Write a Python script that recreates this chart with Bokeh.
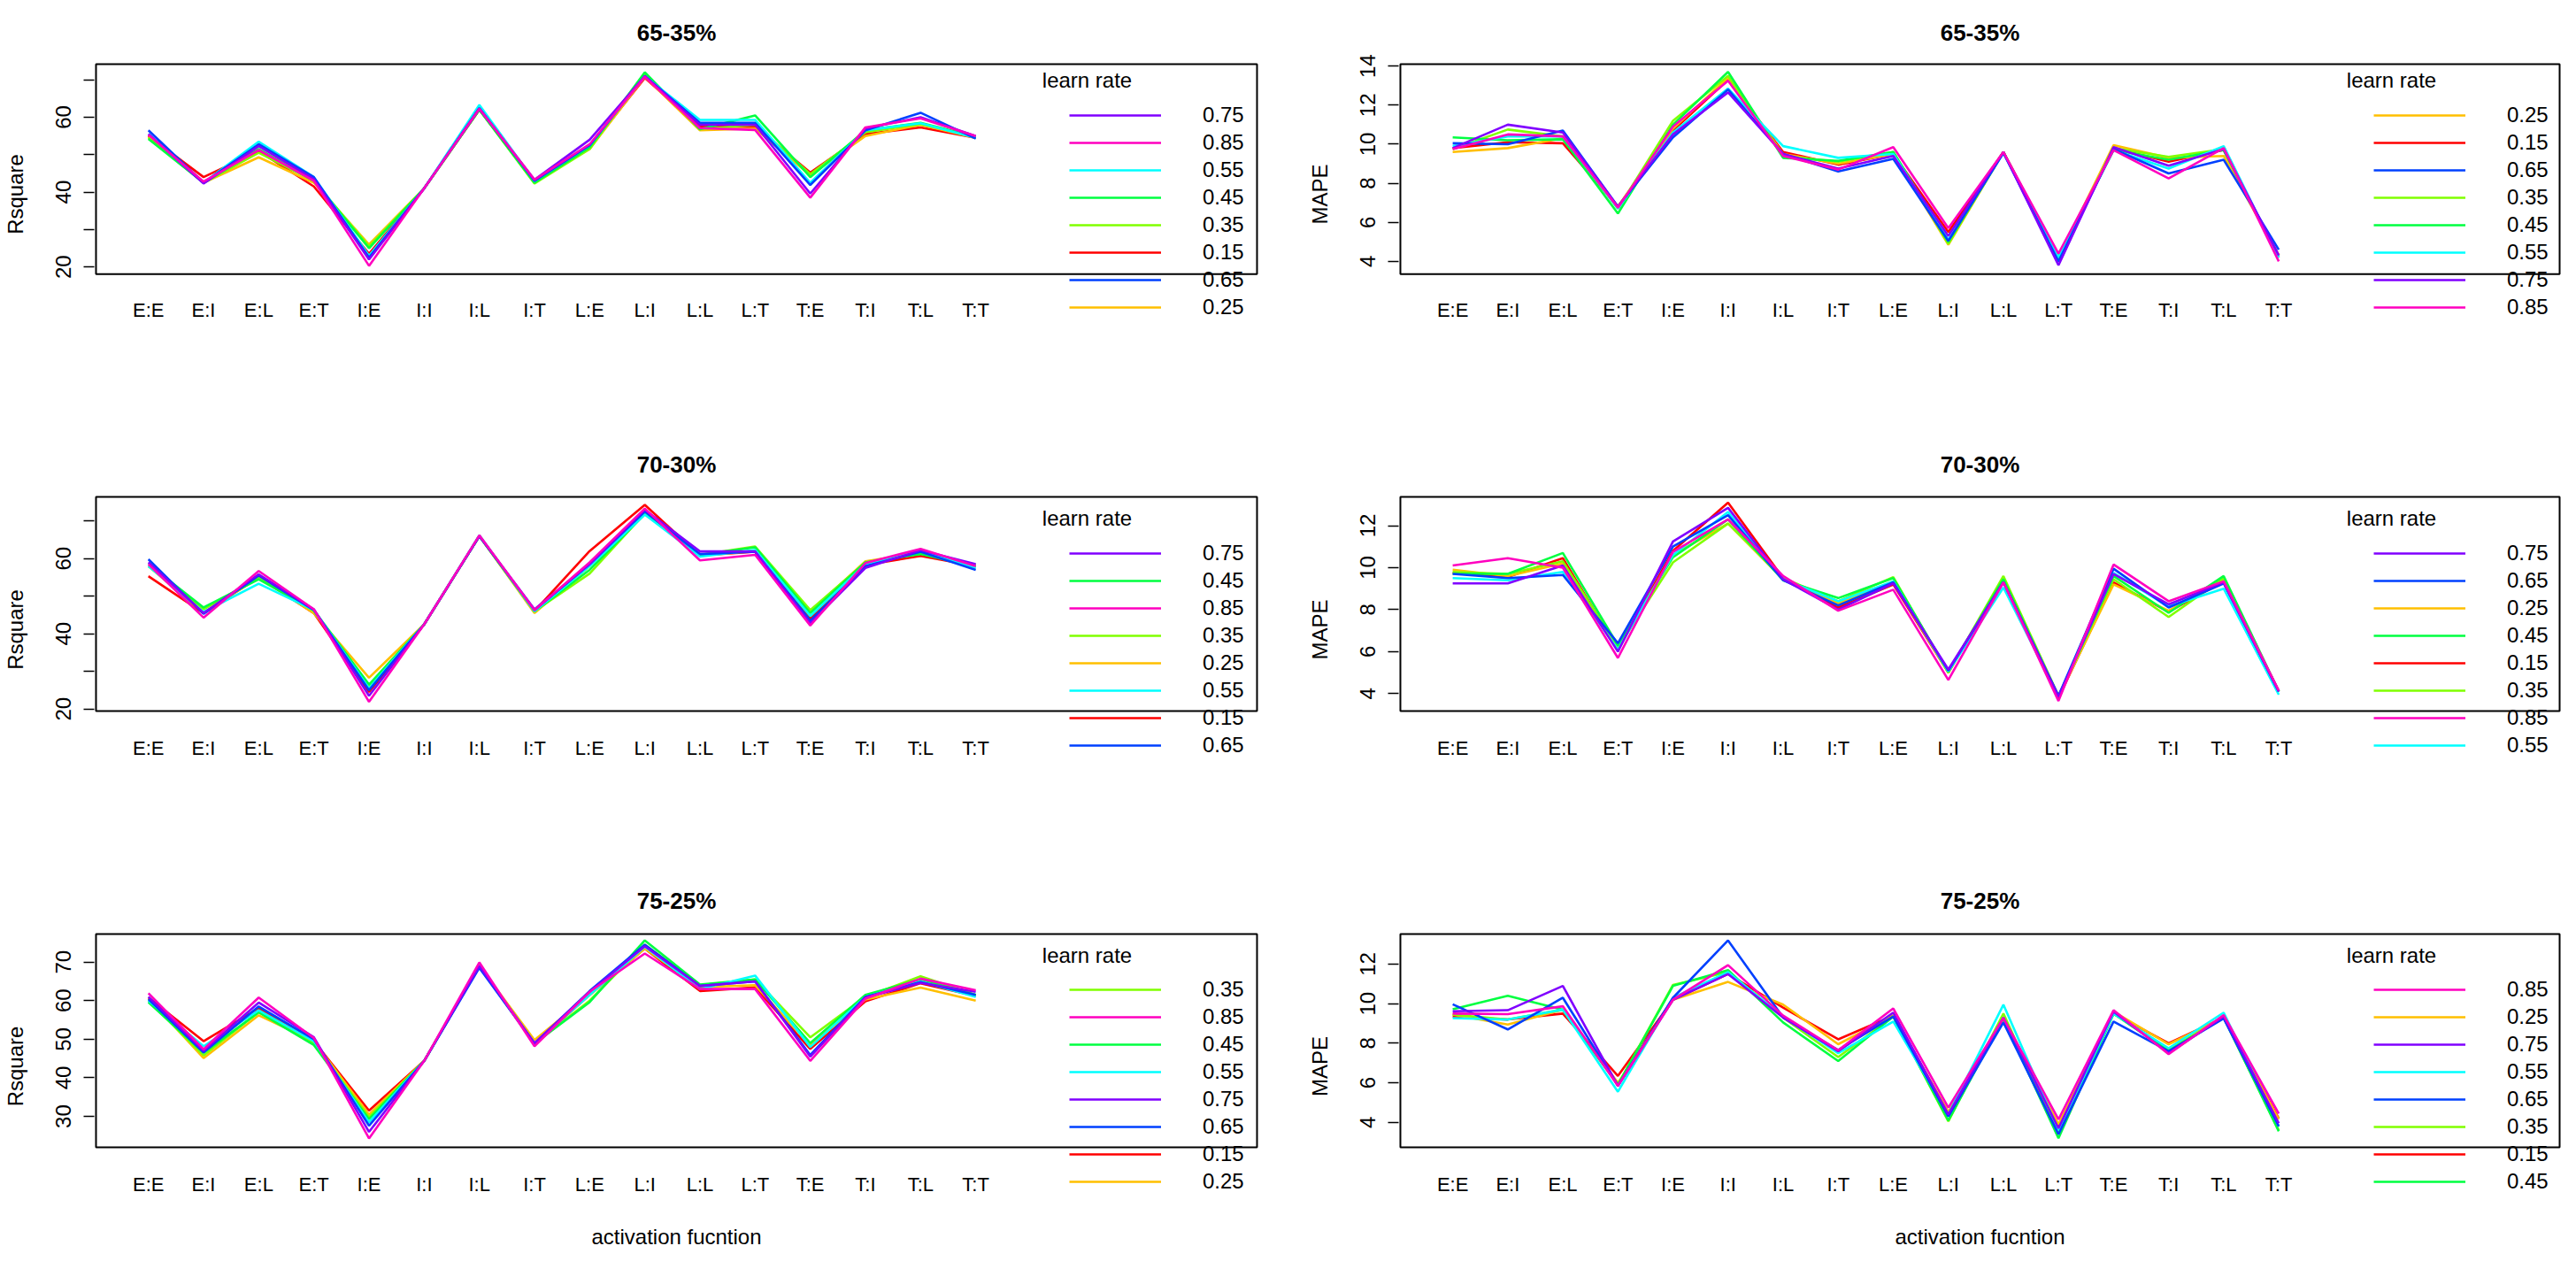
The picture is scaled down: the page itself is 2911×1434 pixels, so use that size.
from bokeh.plotting import figure
from bokeh.models import Range1d, FixedTicker, Legend, LegendItem, Label, BoxAnnotation
from bokeh.layouts import column, row
from bokeh.embed import file_html
from bokeh.resources import INLINE

categories = ["E:E", "E:I", "E:L", "E:T", "I:E", "I:I", "I:L", "I:T",
              "L:E", "L:I", "L:L", "L:T", "T:E", "T:I", "T:L", "T:T"]
learn_rates = ["0.15", "0.25", "0.35", "0.45", "0.55", "0.65", "0.75", "0.85"]
rate_colors = ["#FF0000", "#FFBF00", "#80FF00", "#00FF40", "#00FFFF", "#0040FF", "#8000FF", "#FF00BF"]

# ---- 65-35% Rsquare
rsq65_015 = [55.0, 44.0, 51.0, 41.5, 23.5, 41.0, 62.0, 43.0, 52.0, 70.5, 57.5, 57.5, 45.2, 55.5, 57.3, 54.5]
rsq65_025 = [54.8, 42.5, 49.3, 42.5, 26.0, 41.0, 62.0, 43.0, 51.5, 70.8, 56.5, 57.0, 44.5, 55.0, 58.0, 54.5]
rsq65_035 = [54.5, 42.5, 50.5, 43.0, 25.5, 41.0, 62.0, 42.3, 51.5, 71.8, 56.8, 58.0, 44.8, 56.0, 58.2, 54.8]
rsq65_045 = [54.2, 42.5, 51.5, 43.0, 25.0, 41.0, 62.0, 42.5, 52.0, 72.0, 56.8, 60.5, 44.0, 56.5, 58.5, 54.8]
rsq65_055 = [55.5, 42.5, 53.5, 44.0, 23.0, 41.0, 63.3, 43.0, 52.5, 71.0, 59.3, 59.3, 42.5, 56.5, 58.4, 54.5]
rsq65_065 = [56.5, 42.5, 52.8, 44.0, 22.5, 41.0, 62.5, 43.0, 52.5, 71.0, 58.5, 58.5, 41.9, 56.5, 61.2, 54.3]
rsq65_075 = [55.5, 42.3, 52.3, 43.5, 22.0, 41.0, 62.2, 43.3, 54.0, 71.0, 58.0, 58.0, 39.6, 57.0, 60.0, 55.0]
rsq65_085 = [55.3, 42.8, 51.2, 43.0, 20.3, 41.0, 62.3, 43.3, 52.8, 70.8, 57.1, 56.6, 38.5, 57.3, 59.7, 55.0]

# ---- 65-35% MAPE
mape65_015 = [9.8, 10.1, 10.05, 6.8, 10.7, 13.3, 9.6, 8.95, 9.5, 5.5, 9.6, 4.2, 9.8, 9.1, 9.7, 4.3]
mape65_025 = [9.6, 9.8, 10.3, 6.8, 10.8, 13.4, 9.5, 9.0, 9.5, 4.85, 9.6, 4.2, 9.95, 9.3, 9.4, 4.3]
mape65_035 = [9.75, 10.75, 10.4, 6.7, 11.2, 13.5, 9.4, 9.1, 9.6, 4.9, 9.6, 4.2, 9.8, 9.35, 9.75, 4.2]
mape65_045 = [10.35, 10.2, 10.25, 6.45, 11.0, 13.7, 9.3, 9.15, 9.6, 5.0, 9.6, 4.2, 9.7, 9.2, 9.7, 4.2]
mape65_055 = [9.9, 10.4, 10.4, 6.7, 10.6, 12.85, 9.9, 9.3, 9.5, 5.1, 9.55, 4.2, 9.7, 8.75, 9.9, 4.2]
mape65_065 = [10.05, 10.0, 10.7, 6.8, 10.35, 12.8, 9.5, 8.6, 9.25, 5.05, 9.55, 4.0, 9.75, 8.5, 9.2, 4.6]
mape65_075 = [9.8, 11.0, 10.6, 6.8, 10.5, 12.65, 9.5, 8.75, 9.4, 5.3, 9.6, 3.8, 9.85, 8.9, 9.75, 4.3]
mape65_085 = [9.75, 10.5, 10.4, 6.75, 10.9, 13.25, 9.4, 8.7, 9.85, 5.7, 9.6, 4.4, 9.7, 8.25, 9.8, 4.0]

# ---- 70-30% Rsquare
rsq70_015 = [55.3, 45.5, 55.0, 45.5, 24.5, 42.5, 66.0, 46.0, 62.0, 74.3, 60.8, 61.8, 44.0, 58.3, 60.7, 58.0]
rsq70_025 = [58.0, 45.5, 55.0, 45.5, 28.3, 42.5, 66.0, 45.5, 58.0, 72.5, 60.8, 62.0, 45.8, 59.3, 61.5, 58.3]
rsq70_035 = [58.0, 46.5, 55.0, 46.0, 26.0, 42.5, 66.0, 46.0, 56.0, 72.0, 61.0, 63.2, 46.3, 59.0, 61.8, 58.2]
rsq70_045 = [58.5, 47.0, 54.5, 46.3, 26.5, 42.5, 66.0, 46.0, 57.0, 71.8, 61.0, 63.0, 45.5, 59.0, 61.2, 57.8]
rsq70_055 = [58.0, 45.8, 53.3, 46.3, 25.5, 42.5, 66.2, 46.0, 58.0, 71.7, 60.5, 62.3, 44.7, 58.5, 62.0, 57.5]
rsq70_065 = [59.8, 45.3, 55.5, 46.3, 25.0, 42.5, 66.0, 46.3, 58.5, 72.5, 61.2, 61.8, 43.5, 58.0, 61.8, 57.0]
rsq70_075 = [59.0, 45.5, 55.8, 46.5, 23.5, 42.5, 66.0, 46.5, 58.5, 73.0, 61.9, 61.9, 42.8, 57.5, 62.2, 58.5]
rsq70_085 = [58.5, 44.3, 56.7, 46.5, 21.9, 42.5, 66.2, 46.3, 59.0, 73.3, 59.5, 61.0, 42.2, 58.8, 62.6, 58.0]

# ---- 70-30% MAPE
mape70_015 = [9.75, 9.55, 10.45, 6.1, 10.8, 13.1, 9.5, 8.1, 9.2, 5.0, 9.4, 3.8, 9.3, 7.9, 9.35, 4.1]
mape70_025 = [9.9, 9.6, 10.2, 6.1, 10.6, 12.1, 9.45, 8.3, 9.3, 5.0, 9.4, 3.85, 9.2, 7.95, 9.4, 4.1]
mape70_035 = [9.8, 9.7, 10.3, 6.2, 10.25, 12.1, 9.5, 8.4, 9.55, 5.0, 9.6, 3.9, 9.45, 7.65, 9.5, 4.1]
mape70_045 = [9.7, 9.7, 10.7, 6.3, 10.5, 12.3, 9.4, 8.55, 9.5, 5.05, 9.45, 3.85, 9.6, 7.85, 9.6, 4.1]
mape70_055 = [9.5, 9.4, 9.8, 6.1, 10.6, 12.65, 9.45, 8.4, 9.35, 5.05, 9.05, 3.85, 9.75, 8.15, 9.0, 3.95]
mape70_065 = [9.7, 9.5, 9.65, 6.4, 11.0, 12.5, 9.4, 8.2, 9.3, 5.1, 9.3, 3.9, 9.95, 8.1, 9.25, 4.1]
mape70_075 = [9.25, 9.25, 10.1, 6.0, 11.25, 12.85, 9.45, 8.0, 9.25, 5.15, 9.3, 3.85, 9.7, 8.25, 9.3, 4.1]
mape70_085 = [10.1, 10.45, 10.0, 5.7, 10.75, 12.3, 9.6, 7.95, 8.95, 4.65, 9.3, 3.65, 10.15, 8.4, 9.35, 4.15]

# ---- 75-25% Rsquare
rsq75_015 = [60.8, 49.5, 58.0, 49.5, 31.5, 44.4, 69.0, 48.8, 61.5, 73.5, 62.5, 63.4, 47.5, 59.8, 64.5, 61.2]
rsq75_025 = [60.6, 45.1, 56.2, 49.5, 30.5, 44.4, 69.0, 49.8, 61.5, 73.5, 63.5, 64.0, 48.5, 60.3, 63.4, 60.0]
rsq75_035 = [60.0, 45.8, 57.0, 49.0, 29.8, 44.4, 69.0, 48.9, 60.0, 74.5, 64.0, 65.5, 50.5, 61.0, 66.3, 61.5]
rsq75_045 = [59.6, 46.5, 57.0, 48.5, 29.3, 44.4, 69.0, 48.9, 59.6, 75.6, 64.2, 65.5, 49.0, 61.5, 65.5, 61.5]
rsq75_055 = [60.0, 48.2, 57.5, 49.5, 28.5, 44.4, 69.0, 48.9, 61.5, 74.0, 63.0, 66.5, 48.0, 61.0, 65.0, 61.0]
rsq75_065 = [60.4, 46.6, 58.5, 50.0, 27.6, 44.4, 68.5, 48.9, 62.5, 74.5, 63.8, 65.0, 45.9, 61.0, 64.8, 61.5]
rsq75_075 = [61.0, 47.0, 59.5, 50.5, 26.0, 44.4, 69.0, 49.0, 62.3, 74.1, 63.8, 65.0, 45.5, 60.8, 64.6, 62.3]
rsq75_085 = [61.9, 47.4, 60.8, 50.3, 24.3, 44.4, 69.9, 48.2, 62.3, 72.2, 63.0, 63.0, 44.4, 60.5, 65.7, 62.7]

# ---- 75-25% MAPE
mape75_015 = [9.35, 9.2, 9.5, 6.35, 10.2, 11.5, 9.8, 8.2, 9.4, 4.5, 9.25, 3.8, 9.5, 8.0, 9.3, 4.2]
mape75_025 = [9.45, 8.95, 9.7, 6.0, 10.2, 11.1, 9.95, 7.95, 9.4, 4.5, 9.25, 3.9, 9.6, 7.95, 9.3, 4.15]
mape75_035 = [9.45, 9.2, 9.7, 5.9, 10.95, 11.6, 9.3, 7.3, 9.35, 4.05, 9.5, 3.4, 9.5, 7.7, 9.3, 3.6]
mape75_045 = [9.72, 10.4, 9.7, 5.9, 10.9, 11.7, 9.05, 7.1, 9.35, 4.1, 9.25, 3.2, 9.5, 7.6, 9.3, 3.55]
mape75_055 = [9.27, 9.2, 9.7, 5.55, 10.3, 11.6, 9.35, 7.5, 9.1, 4.4, 9.95, 3.6, 9.5, 7.75, 9.55, 3.8]
mape75_065 = [9.97, 8.7, 10.3, 5.85, 10.3, 13.2, 9.3, 7.65, 9.35, 4.3, 9.05, 3.4, 9.1, 7.6, 9.25, 3.8]
mape75_075 = [9.62, 9.67, 10.9, 5.85, 10.2, 11.5, 9.3, 7.6, 9.55, 4.4, 9.3, 3.7, 9.6, 7.5, 9.35, 3.95]
mape75_085 = [9.5, 9.47, 9.87, 5.85, 10.2, 11.95, 9.4, 7.65, 9.76, 4.75, 9.27, 4.15, 9.67, 7.45, 9.42, 4.45]

# legend orders as printed in each panel
legend_rsq65 = ["0.75", "0.85", "0.55", "0.45", "0.35", "0.15", "0.65", "0.25"]
legend_mape65 = ["0.25", "0.15", "0.65", "0.35", "0.45", "0.55", "0.75", "0.85"]
legend_rsq70 = ["0.75", "0.45", "0.85", "0.35", "0.25", "0.55", "0.15", "0.65"]
legend_mape70 = ["0.75", "0.65", "0.25", "0.45", "0.15", "0.35", "0.85", "0.55"]
legend_rsq75 = ["0.35", "0.85", "0.45", "0.55", "0.75", "0.65", "0.15", "0.25"]
legend_mape75 = ["0.85", "0.25", "0.75", "0.55", "0.65", "0.35", "0.15", "0.45"]

FONT = "Liberation Sans"
x_pos = list(range(1, len(categories) + 1))
XLO, XHI = 0.05, 21.1   # x limits of the drawn box
PAD = 2                 # frame extends this many px beyond the box (left/right/top)
EXT = 60                # frame extends this many px below the box (room for legend)


def make_panel(title, ylabel, series, ylim, yticks, ylabeled, legend_order,
               height, box_top, box_h, title_standoff, left, xlabel=None):
    if left:
        width, box_left, box_w = 1448, 106, 1314
    else:
        width, box_left, box_w = 1447, 134, 1310
    mbl = box_left - PAD
    mbr = width - box_left - box_w - PAD
    mbt = box_top - PAD
    mbb = height - box_top - box_h - EXT
    xs = (XHI - XLO) / box_w
    lo, hi = ylim
    ys = (hi - lo) / box_h
    p = figure(width=width, height=height, output_backend="svg", toolbar_location=None,
               x_range=Range1d(XLO - PAD * xs, XHI + PAD * xs),
               y_range=Range1d(lo - EXT * ys, hi + PAD * ys),
               min_border_left=mbl, min_border_right=mbr,
               min_border_top=mbt, min_border_bottom=mbb,
               title=title)
    p.title.align = "center"
    p.title.text_font = FONT
    p.title.text_font_size = "26px"
    p.title.text_font_style = "bold"
    p.title.text_color = "black"
    p.title.standoff = title_standoff
    p.xgrid.visible = False
    p.ygrid.visible = False
    p.outline_line_color = None
    p.background_fill_color = "white"
    p.border_fill_color = "white"

    rends = {}
    for rate, col in zip(learn_rates, rate_colors):
        rends[rate] = p.line(x_pos, series[rate], line_color=col, line_width=2.6)

    p.add_layout(BoxAnnotation(left=XLO, right=XHI, bottom=lo, top=hi,
                               fill_alpha=0, line_color="black", line_alpha=1.0,
                               line_width=2))

    # x axis
    xa = p.xaxis[0]
    xa.ticker = FixedTicker(ticks=x_pos)
    xa.major_label_overrides = {i: c for i, c in zip(x_pos, categories)}
    xa.major_tick_out = 0
    xa.major_tick_in = 0
    xa.minor_tick_out = 0
    xa.minor_tick_in = 0
    xa.axis_line_color = None
    xa.major_label_standoff = -(EXT - 29)
    xa.major_label_text_font = FONT
    xa.major_label_text_font_size = "22px"
    xa.major_label_text_color = "black"
    if xlabel:
        xa.axis_label = xlabel
        xa.axis_label_text_font = FONT
        xa.axis_label_text_font_size = "24px"
        xa.axis_label_text_font_style = "normal"
        xa.axis_label_text_color = "black"
        xa.axis_label_standoff = 30

    # y axis
    ya = p.yaxis[0]
    ya.ticker = FixedTicker(ticks=yticks)
    ya.major_label_overrides = {t: (str(t) if t in ylabeled else "") for t in yticks}
    ya.major_tick_out = 12
    ya.major_tick_in = 0
    ya.minor_tick_out = 0
    ya.minor_tick_in = 0
    ya.major_tick_line_width = 1.5
    ya.major_tick_line_color = "black"
    ya.axis_line_color = None
    ya.major_label_orientation = "vertical"
    ya.major_label_standoff = 14
    ya.major_label_text_font = FONT
    ya.major_label_text_font_size = "24px"
    ya.major_label_text_color = "black"
    ya.axis_label = ylabel
    ya.axis_label_text_font = FONT
    ya.axis_label_text_font_size = "24px"
    ya.axis_label_text_font_style = "normal"
    ya.axis_label_text_color = "black"
    ya.axis_label_standoff = 30

    legend = Legend(items=[LegendItem(label=r, renderers=[rends[r]]) for r in legend_order],
                    location=(PAD + 1100, EXT - 53),
                    orientation="vertical", padding=0, margin=0, spacing=3,
                    glyph_width=104, glyph_height=28, label_height=28,
                    label_standoff=47,
                    label_text_font=FONT, label_text_font_size="24px",
                    label_text_color="black",
                    border_line_color=None, background_fill_alpha=0)
    p.add_layout(legend)
    p.add_layout(Label(x=PAD + 1120, y=EXT + box_h - 24, x_units="screen", y_units="screen",
                       text="learn rate", text_align="center", text_baseline="middle",
                       text_font=FONT, text_font_size="24px", text_color="black"))
    return p


def ser(*lists):
    return {r: l for r, l in zip(learn_rates, lists)}


# row 1: figure y 0..462 (page y 8..470), box top at page y 74
p1 = make_panel("65-35%", "Rsquare",
                ser(rsq65_015, rsq65_025, rsq65_035, rsq65_045, rsq65_055, rsq65_065, rsq65_075, rsq65_085),
                (18.1, 74.2), [20, 30, 40, 50, 60, 70], [20, 40, 60], legend_rsq65,
                462, 66, 242, 38, True)
p2 = make_panel("65-35%", "MAPE",
                ser(mape65_015, mape65_025, mape65_035, mape65_045, mape65_055, mape65_065, mape65_075, mape65_085),
                (3.35, 14.1), [4, 6, 8, 10, 12, 14], [4, 6, 8, 10, 12, 14], legend_mape65,
                462, 66, 242, 38, False)
# row 2: page y 470..960, box top at page y 569
p3 = make_panel("70-30%", "Rsquare",
                ser(rsq70_015, rsq70_025, rsq70_035, rsq70_045, rsq70_055, rsq70_065, rsq70_075, rsq70_085),
                (19.45, 76.4), [20, 30, 40, 50, 60, 70], [20, 40, 60], legend_rsq70,
                490, 99, 242, 40, True)
p4 = make_panel("70-30%", "MAPE",
                ser(mape70_015, mape70_025, mape70_035, mape70_045, mape70_055, mape70_065, mape70_075, mape70_085),
                (3.17, 13.37), [4, 6, 8, 10, 12], [4, 6, 8, 10, 12], legend_mape70,
                490, 99, 242, 40, False)
# row 3: page y 960..1426, box top at page y 1063
p5 = make_panel("75-25%", "Rsquare",
                ser(rsq75_015, rsq75_025, rsq75_035, rsq75_045, rsq75_055, rsq75_065, rsq75_075, rsq75_085),
                (22.0, 77.25), [30, 40, 50, 60, 70], [30, 40, 50, 60, 70], legend_rsq75,
                466, 103, 241, 41, True, "activation fucntion")
p6 = make_panel("75-25%", "MAPE",
                ser(mape75_015, mape75_025, mape75_035, mape75_045, mape75_055, mape75_065, mape75_075, mape75_085),
                (2.74, 13.52), [4, 6, 8, 10, 12], [4, 6, 8, 10, 12], legend_mape75,
                466, 103, 241, 41, False, "activation fucntion")

layout = column(row(p1, p2), row(p3, p4), row(p5, p6))
open("out.html", "w").write(file_html(layout, INLINE))
